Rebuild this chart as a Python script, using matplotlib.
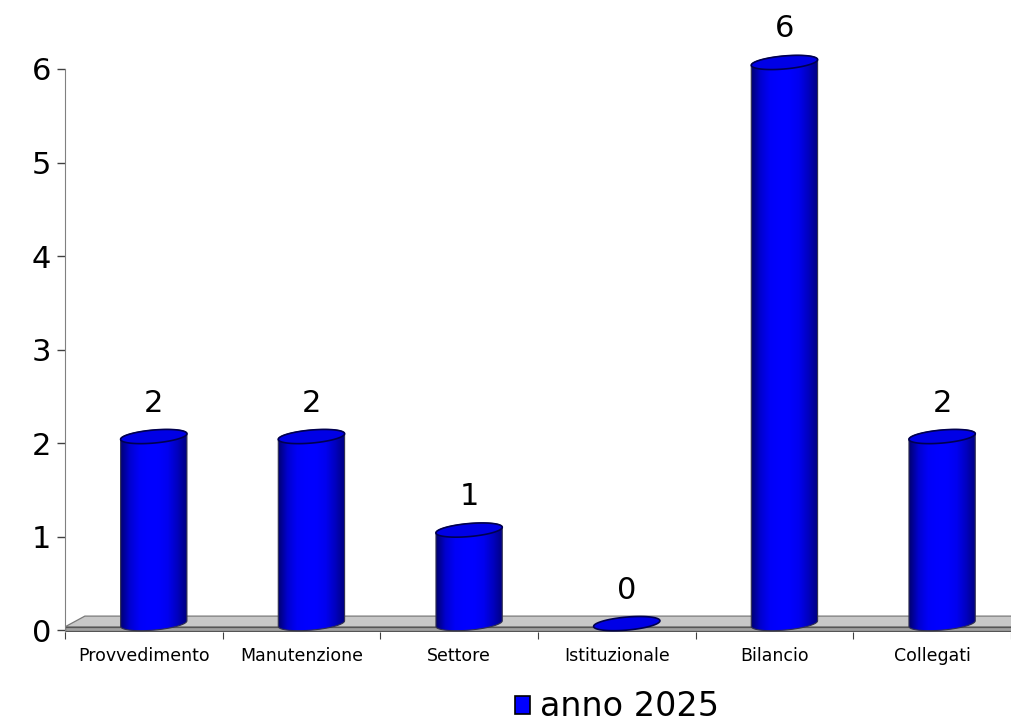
import matplotlib
matplotlib.use('Agg')
import matplotlib.pyplot as plt
import numpy as np
from matplotlib.patches import Polygon, Patch
from matplotlib.colors import LinearSegmentedColormap

categorie = ['Provvedimento', 'Manutenzione', 'Settore', 'Istituzionale', 'Bilancio', 'Collegati']
valori = [2, 2, 1, 0, 6, 2]
serie = 'anno 2025'

W, H = 1011, 723
fig = plt.figure(figsize=(W / 100, H / 100), dpi=100)
px_x = 158.7
px_y = (632 - 69) / 6.02
y_max = 6.55
alto = (y_max + 0.02) * px_y
# asse: x da 65 a 1011 px, y=-0.02 a 632 px
ax = fig.add_axes([65 / W, 1 - 632 / H, (W - 65) / W, alto / H])
ax.set_xlim(-0.5, -0.5 + (W - 65) / px_x)
ax.set_ylim(-0.02, y_max)

for s in ['top', 'right', 'bottom']:
    ax.spines[s].set_visible(False)
ax.spines['left'].set_color('#808080')
ax.spines['left'].set_bounds(-0.02, 6)
ax.set_yticks(range(7))
ax.tick_params(axis='y', labelsize=22, length=6, width=1, color='#404040', pad=4)

# tick maggiori ai confini delle categorie, etichette al centro
ax.set_xticks(np.arange(-0.5, len(categorie), 1))
ax.set_xticklabels([''] * (len(categorie) + 1))
ax.tick_params(axis='x', which='major', length=5, color='#404040')
ax.set_xticks(np.arange(len(categorie)), minor=True)
ax.set_xticklabels(categorie, minor=True, fontsize=12.5)
ax.tick_params(axis='x', which='minor', length=0, pad=11)

# pavimento 3D
dx = 20 / px_x
top_face = Polygon([(-0.5, 0.035), (-0.5 + dx, 0.15), (10, 0.15), (10, 0.035)],
                   closed=True, facecolor='#c8c8c8', edgecolor='#7a7a7a', lw=0.9, zorder=1)
front_face = Polygon([(-0.5, -0.012), (-0.5, 0.035), (10, 0.035), (10, -0.012)],
                     closed=True, facecolor='#a0a0a0', edgecolor='#555555', lw=0.9, zorder=1)
ax.add_patch(top_face)
ax.add_patch(front_face)

cmap = LinearSegmentedColormap.from_list(
    'cil', ['#000070', '#0000d0', '#0000f8', '#0000ff', '#0000ff', '#0000f0', '#0000c0', '#000080'])

a_px, b_px, tilt = 33.5, 6.5, np.radians(5)
base = 0.07
shift = 10 / px_x


def ellisse(cx, cy, t):
    ex = a_px * np.cos(t) * np.cos(tilt) - b_px * np.sin(t) * np.sin(tilt)
    ey = a_px * np.cos(t) * np.sin(tilt) + b_px * np.sin(t) * np.cos(tilt)
    return cx + ex / px_x, cy + ey / px_y


for i, v in enumerate(valori):
    cx = i + shift
    ytop = v + base
    tt = np.linspace(0, 2 * np.pi, 120)
    if v > 0:
        tb = np.linspace(np.pi, 2 * np.pi, 60)
        bx, by = ellisse(cx, base, tb)
        tu = np.linspace(0, np.pi, 60)
        ux, uy = ellisse(cx, ytop, tu)
        corpo = np.column_stack([np.r_[bx, ux], np.r_[by, uy]])
        poly = Polygon(corpo, closed=True, facecolor='none', edgecolor='#303050', lw=0.8, zorder=3)
        ax.add_patch(poly)
        grad = np.linspace(0, 1, 200).reshape(1, -1)
        im = ax.imshow(grad, cmap=cmap, aspect='auto', zorder=2,
                       extent=[cx - a_px / px_x, cx + a_px / px_x, base - 0.2, ytop + 0.2])
        im.set_clip_path(poly)
    ex, ey = ellisse(cx, ytop, tt)
    ax.add_patch(Polygon(np.column_stack([ex, ey]), closed=True, facecolor='#0000e6',
                         edgecolor='#000050', lw=1.2, zorder=4))
    ax.annotate(str(v), (cx, ytop), xytext=(0, 18), textcoords='offset points',
                ha='center', va='baseline', fontsize=22, annotation_clip=False)

fig.legend(handles=[Patch(facecolor='#0000ff', edgecolor='black', lw=1.2)], labels=[serie],
           loc='center', bbox_to_anchor=(617 / W, 1 - 707 / H), frameon=False, fontsize=24,
           handlelength=0.45, handleheight=0.45, handletextpad=0.3)

fig.savefig('out.png', dpi=100)
